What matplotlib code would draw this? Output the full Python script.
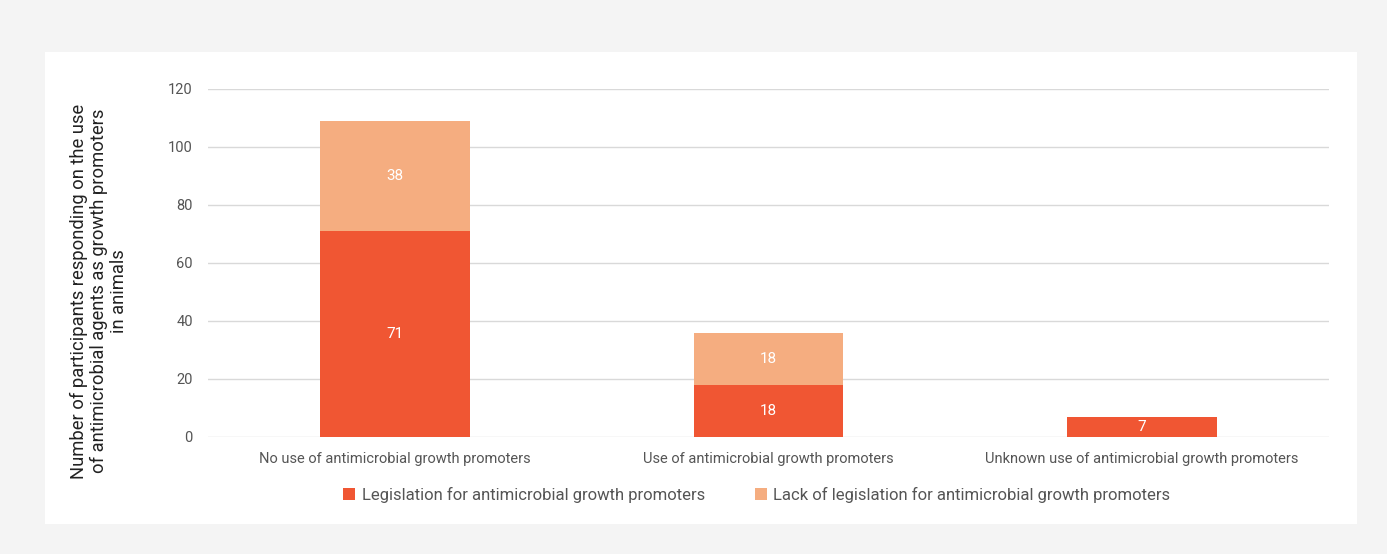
import numpy as np
import matplotlib.pyplot as plt
from matplotlib.patches import Rectangle

categories = ["No use of antimicrobial growth promoters",
              "Use of antimicrobial growth promoters",
              "Unknown use of antimicrobial growth promoters"]
legislation = [71, 18, 7]
lack_legislation = [38, 18, 0]
series_names = ["Legislation for antimicrobial growth promoters",
                "Lack of legislation for antimicrobial growth promoters"]
yticks = [0, 20, 40, 60, 80, 100, 120]

dark = "#F05633"
light = "#F5AD80"
grey = "#555555"

plt.rcParams['font.family'] = ['Roboto', 'DejaVu Sans']

fig = plt.figure(figsize=(13.87, 5.54), dpi=100, facecolor="#f4f4f4")
W, H = 1387, 554
# white panel behind everything
fig.patches.append(Rectangle((45 / W, 1 - 524 / H), (1357 - 45) / W, (524 - 52) / H,
                             transform=fig.transFigure, facecolor="white", edgecolor="none", zorder=-5))

ax = fig.add_axes([208 / W, 1 - 437 / H, (1329 - 208) / W, (437 - 89) / H])
ax.set_facecolor("none")

x = np.arange(len(categories))
b1 = ax.bar(x, legislation, width=0.4, color=dark, label=series_names[0], zorder=3)
b2 = ax.bar(x, lack_legislation, width=0.4, bottom=legislation, color=light,
            label=series_names[1], zorder=3)

for i in range(len(categories)):
    if legislation[i] > 0:
        ax.text(x[i], legislation[i] / 2, str(legislation[i]), ha="center", va="center",
                color="white", fontsize=11, zorder=4)
    if lack_legislation[i] > 0:
        ax.text(x[i], legislation[i] + lack_legislation[i] / 2, str(lack_legislation[i]),
                ha="center", va="center", color="white", fontsize=11, zorder=4)

ax.set_xlim(-0.5, 2.5)
ax.set_ylim(0, 120)
ax.set_yticks(yticks)
ax.set_xticks(x)
ax.set_xticklabels(categories)
ax.tick_params(axis="both", length=0, colors=grey, labelsize=10.5)
ax.tick_params(axis="y", pad=11)
ax.tick_params(axis="x", pad=11)
ax.grid(axis="y", color="#d9d9d9", linewidth=1, zorder=0)
for s in ax.spines.values():
    s.set_visible(False)

fig.text(99 / W, 1 - 291 / H,
         "Number of participants responding on the use\nof antimicrobial agents as growth promoters\nin animals",
         rotation=90, ha="center", va="center", fontsize=13.2, color="#222222", linespacing=1.15)

leg = fig.legend(handles=[b1, b2], loc="center", bbox_to_anchor=(757 / W, 1 - 495 / H),
                 ncol=2, frameon=False, fontsize=12, handlelength=0.7, handleheight=0.7,
                 handletextpad=0.4, columnspacing=3.0)
for t in leg.get_texts():
    t.set_color(grey)

fig.savefig("out.png", dpi=100, facecolor=fig.get_facecolor())
